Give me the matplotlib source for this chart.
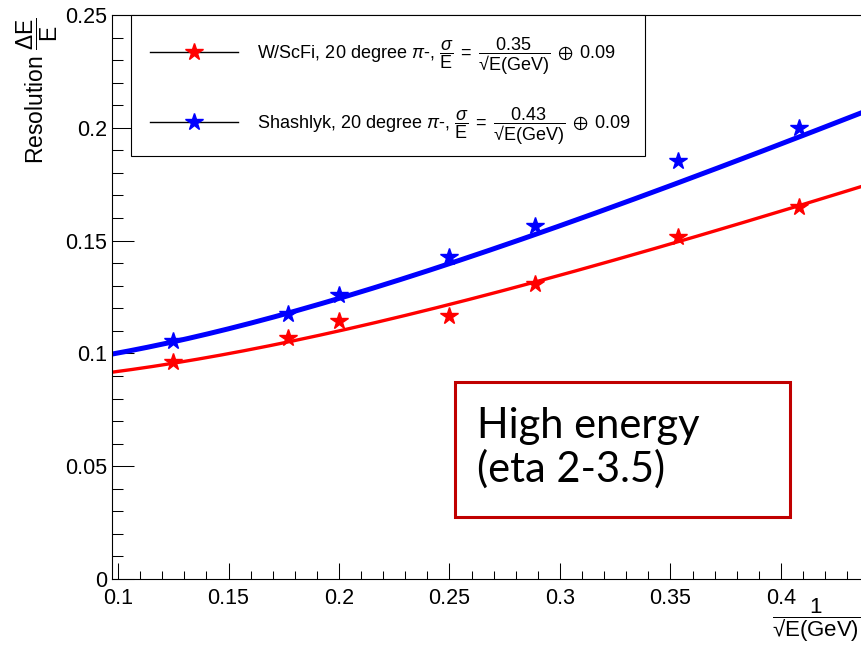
import numpy as np
import matplotlib
matplotlib.use("Agg")
import matplotlib.pyplot as plt
from matplotlib.lines import Line2D
from matplotlib.patches import Rectangle
from matplotlib.ticker import MultipleLocator

plt.rcParams['font.family'] = ['Liberation Sans', 'DejaVu Sans']
plt.rcParams['mathtext.fontset'] = 'custom'
plt.rcParams['mathtext.rm'] = 'Liberation Sans'
plt.rcParams['mathtext.it'] = 'Liberation Sans:italic'
plt.rcParams['mathtext.bf'] = 'Liberation Sans:bold'
plt.rcParams['mathtext.sf'] = 'Liberation Sans'
plt.rcParams['mathtext.fallback'] = 'stixsans'

# beam energies 64, 32, 25, 16, 12, 8, 6 GeV -> 1/sqrt(E)
inv_sqrt_e = [0.125, 0.1768, 0.2, 0.25, 0.2887, 0.3536, 0.4082]
res_wscfi = [0.0963, 0.1067, 0.1144, 0.1167, 0.1308, 0.1517, 0.1650]
res_shashlyk = [0.1055, 0.1173, 0.1259, 0.1429, 0.1565, 0.1854, 0.1998]

# fit parameters (stochastic term, constant term)
fit_wscfi = [0.3476, 0.0852]
fit_shashlyk = [0.4255, 0.0907]

names = ["W/ScFi", "Shashlyk"]
colors = ["#ff0000", "#0000ff"]
line_widths = [2.4, 3.6]

W, H = 861, 645
fig = plt.figure(figsize=(W / 100, H / 100), dpi=100)

# frame: left spine at x=111.7px, bottom at y=579px, top at y=15px, right edge runs off the canvas
left, bottom, top = 111.7 / W, 1 - 579 / H, 1 - 15 / H
right = 1.01
ax = fig.add_axes([left, bottom, right - left, top - bottom])

px_per_unit = 2210.0
xmin = 0.1 - (118 - 111.7) / px_per_unit
xmax = xmin + (right - left) * W / px_per_unit
ax.set_xlim(xmin, xmax)
ax.set_ylim(0, 0.25)


def resolution(x, a, b):
    return np.hypot(a * x, b)


def tick_fmt(v, pos):
    if abs(v) < 1e-9:
        return "0"
    return ("%.2f" % v).rstrip('0').rstrip('.')


xs = np.linspace(xmin, xmax, 300)
series = [(res_wscfi, fit_wscfi), (res_shashlyk, fit_shashlyk)]
handles, labels = [], []
for (vals, (a, b)), name, c, lw in zip(series, names, colors, line_widths):
    ax.plot(xs, resolution(xs, a, b), color=c, lw=lw, zorder=2)
    ax.plot(inv_sqrt_e, vals, ls='none', marker='*', ms=13, color=c, zorder=3)
    handles.append(Line2D([], [], color='black', lw=1.0, marker='*', ms=13,
                          mfc=c, mec=c))
    labels.append(r"%s, 20 degree $\pi$-, $\dfrac{\sigma}{\mathrm{E}}\;=\;"
                  r"\dfrac{%.2f}{√\mathrm{E(GeV)}}\;\oplus\;%.2f$" % (name, a, b))

# ROOT style axes
ax.xaxis.set_major_locator(MultipleLocator(0.05))
ax.xaxis.set_minor_locator(MultipleLocator(0.01))
ax.yaxis.set_major_locator(MultipleLocator(0.05))
ax.yaxis.set_minor_locator(MultipleLocator(0.01))
ax.xaxis.set_major_formatter(plt.FuncFormatter(tick_fmt))
ax.yaxis.set_major_formatter(plt.FuncFormatter(tick_fmt))
ax.tick_params(axis='both', which='both', direction='in', top=False, right=False,
               width=0.75, colors='black', labelsize=15.5)
ax.tick_params(axis='y', which='major', length=15.8, pad=3.5)
ax.tick_params(axis='y', which='minor', length=7.9)
ax.tick_params(axis='x', which='major', length=11.5, pad=6.5)
ax.tick_params(axis='x', which='minor', length=5.8)
for s in ax.spines.values():
    s.set_linewidth(0.8)

# legend box drawn separately so the rows can sit freely inside it
ax.add_patch(Rectangle((131 / W, 1 - 156 / H), 514 / W, 141 / H, facecolor='white',
                       edgecolor='black', lw=0.8, transform=fig.transFigure,
                       clip_on=False, zorder=4))
leg = ax.legend(handles, labels, loc='upper left',
                bbox_to_anchor=(129 / W, 1 - 15 / H), bbox_transform=fig.transFigure,
                borderaxespad=0, fontsize=13, handlelength=4.9, handletextpad=1.05,
                borderpad=1.14, labelspacing=1.56, numpoints=1, frameon=False)
leg.set_zorder(5)

# axis titles
fig.text(37 / W, 1 - 17 / H, r"Resolution $\dfrac{\Delta\mathrm{E}}{\mathrm{E}}$",
         rotation=90, ha='center', va='top', fontsize=16.5)
fig.text(772 / W, 1 - 596 / H, r"$\dfrac{1}{√\mathrm{E(GeV)}}$",
         ha='left', va='top', fontsize=16)

# annotation box
fig.add_artist(Rectangle((455 / W, 1 - 517 / H), 335 / W, 135 / H, fill=False,
                         edgecolor='#c00000', lw=2.2, transform=fig.transFigure))
fig.text(477 / W, 1 - 438 / H, "High energy", fontsize=30, family='Lato',
         ha='left', va='baseline')
fig.text(477 / W, 1 - 482 / H, "(eta 2-3.5)", fontsize=30, family='Lato',
         ha='left', va='baseline')

fig.savefig("out.png", dpi=100)
